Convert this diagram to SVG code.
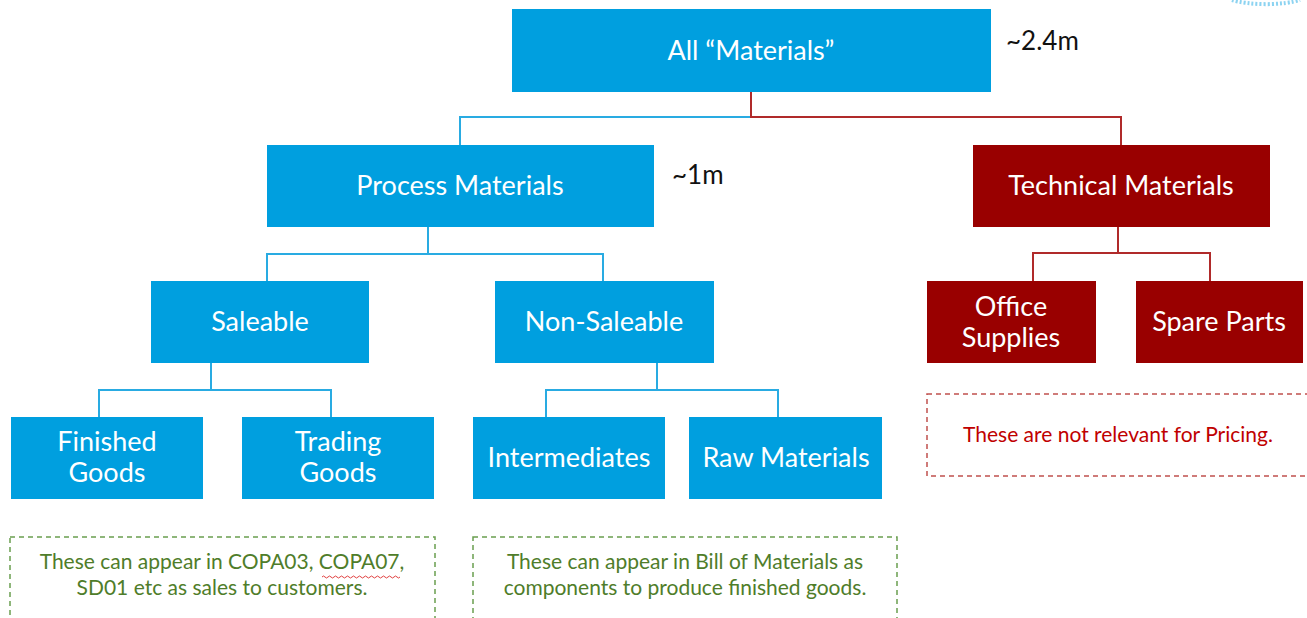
<svg xmlns="http://www.w3.org/2000/svg" width="1307" height="618" viewBox="0 0 1307 618">
<style>
.b{fill:#009FDF}
.r{fill:#990000}
.t{font-family:Lato,"Liberation Sans",sans-serif;font-size:27px;fill:#fff;text-anchor:middle}
.lb{fill:none;stroke:#29ABE2;stroke-width:2}
.lr{fill:none;stroke:#B02A2A;stroke-width:2}
.dg{fill:none;stroke:#6A9F4F;stroke-width:1.5;stroke-dasharray:5 4}
.dr{fill:none;stroke:#C0504D;stroke-width:1.5;stroke-dasharray:5 4}
.ng{font-family:Lato,"Liberation Sans",sans-serif;font-size:21px;fill:#4F7D2A;text-anchor:middle}
.nr{font-family:Lato,"Liberation Sans",sans-serif;font-size:21px;fill:#C00000;text-anchor:middle}
.q{font-family:Lato,"Liberation Sans",sans-serif;font-size:26px;fill:#111}
</style>
<rect width="1307" height="618" fill="#fff"/>
<path d="M1232 0 A45 12 0 0 0 1300 0" fill="none" stroke="#5BC0EB" stroke-width="4" stroke-dasharray="2 2" opacity="0.7"/>
<g id="connectors">
<path class="lb" d="M751 92 V117 H460 V145"/>
<path class="lr" d="M751 92 V117 H1121 V145"/>
<path class="lb" d="M428 227 V254 H267 V281 M428 254 H603 V281"/>
<path class="lb" d="M211 363 V390 H99 V417 M211 390 H331 V417"/>
<path class="lb" d="M657 363 V390 H546 V417 M657 390 H778 V417"/>
<path class="lr" d="M1118 227 V253 H1033 V281 M1118 253 H1210 V281"/>
</g>
<g id="all"><rect class="b" x="512" y="9" width="479" height="83"/><text class="t" x="751" y="60">All “Materials”</text></g>
<text class="q" x="1006" y="50">~2.4m</text>
<g id="process"><rect class="b" x="267" y="145" width="387" height="82"/><text class="t" x="460" y="195">Process Materials</text></g>
<text class="q" x="672" y="184">~1m</text>
<g id="technical"><rect class="r" x="973" y="145" width="297" height="82"/><text class="t" x="1121" y="195">Technical Materials</text></g>
<g id="saleable"><rect class="b" x="151" y="281" width="218" height="82"/><text class="t" x="260" y="331">Saleable</text></g>
<g id="nonsaleable"><rect class="b" x="495" y="281" width="219" height="82"/><text class="t" x="604" y="331">Non-Saleable</text></g>
<g id="office"><rect class="r" x="927" y="281" width="169" height="82"/><text class="t" x="1011" y="316">Office</text><text class="t" x="1011" y="347">Supplies</text></g>
<g id="spare"><rect class="r" x="1136" y="281" width="167" height="82"/><text class="t" x="1219" y="331">Spare Parts</text></g>
<g id="finished"><rect class="b" x="11" y="417" width="192" height="82"/><text class="t" x="107" y="451">Finished</text><text class="t" x="107" y="482">Goods</text></g>
<g id="trading"><rect class="b" x="242" y="417" width="192" height="82"/><text class="t" x="338" y="451">Trading</text><text class="t" x="338" y="482">Goods</text></g>
<g id="intermediates"><rect class="b" x="473" y="417" width="192" height="82"/><text class="t" x="569" y="467">Intermediates</text></g>
<g id="raw"><rect class="b" x="689" y="417" width="193" height="82"/><text class="t" x="786" y="467">Raw Materials</text></g>
<g id="note-red"><rect class="dr" x="927" y="394" width="400" height="82"/><text class="nr" x="1118" y="442">These are not relevant for Pricing.</text></g>
<g id="note-green1"><rect class="dg" x="10" y="537" width="425" height="100"/><text class="ng" x="222" y="569">These can appear in COPA03, COPA07,</text><text class="ng" x="222" y="595">SD01 etc as sales to customers.</text>
<path d="M322 577 q1.5 -2 3 0 t3 0 t3 0 t3 0 t3 0 t3 0 t3 0 t3 0 t3 0 t3 0 t3 0 t3 0 t3 0 t3 0 t3 0 t3 0 t3 0 t3 0 t3 0 t3 0 t3 0 t3 0 t3 0 t3 0 t3 0 t3 0" fill="none" stroke="#E04040" stroke-width="1"/></g>
<g id="note-green2"><rect class="dg" x="473" y="537" width="424" height="100"/><text class="ng" x="685" y="569">These can appear in Bill of Materials as</text><text class="ng" x="685" y="595">components to produce finished goods.</text></g>
</svg>
